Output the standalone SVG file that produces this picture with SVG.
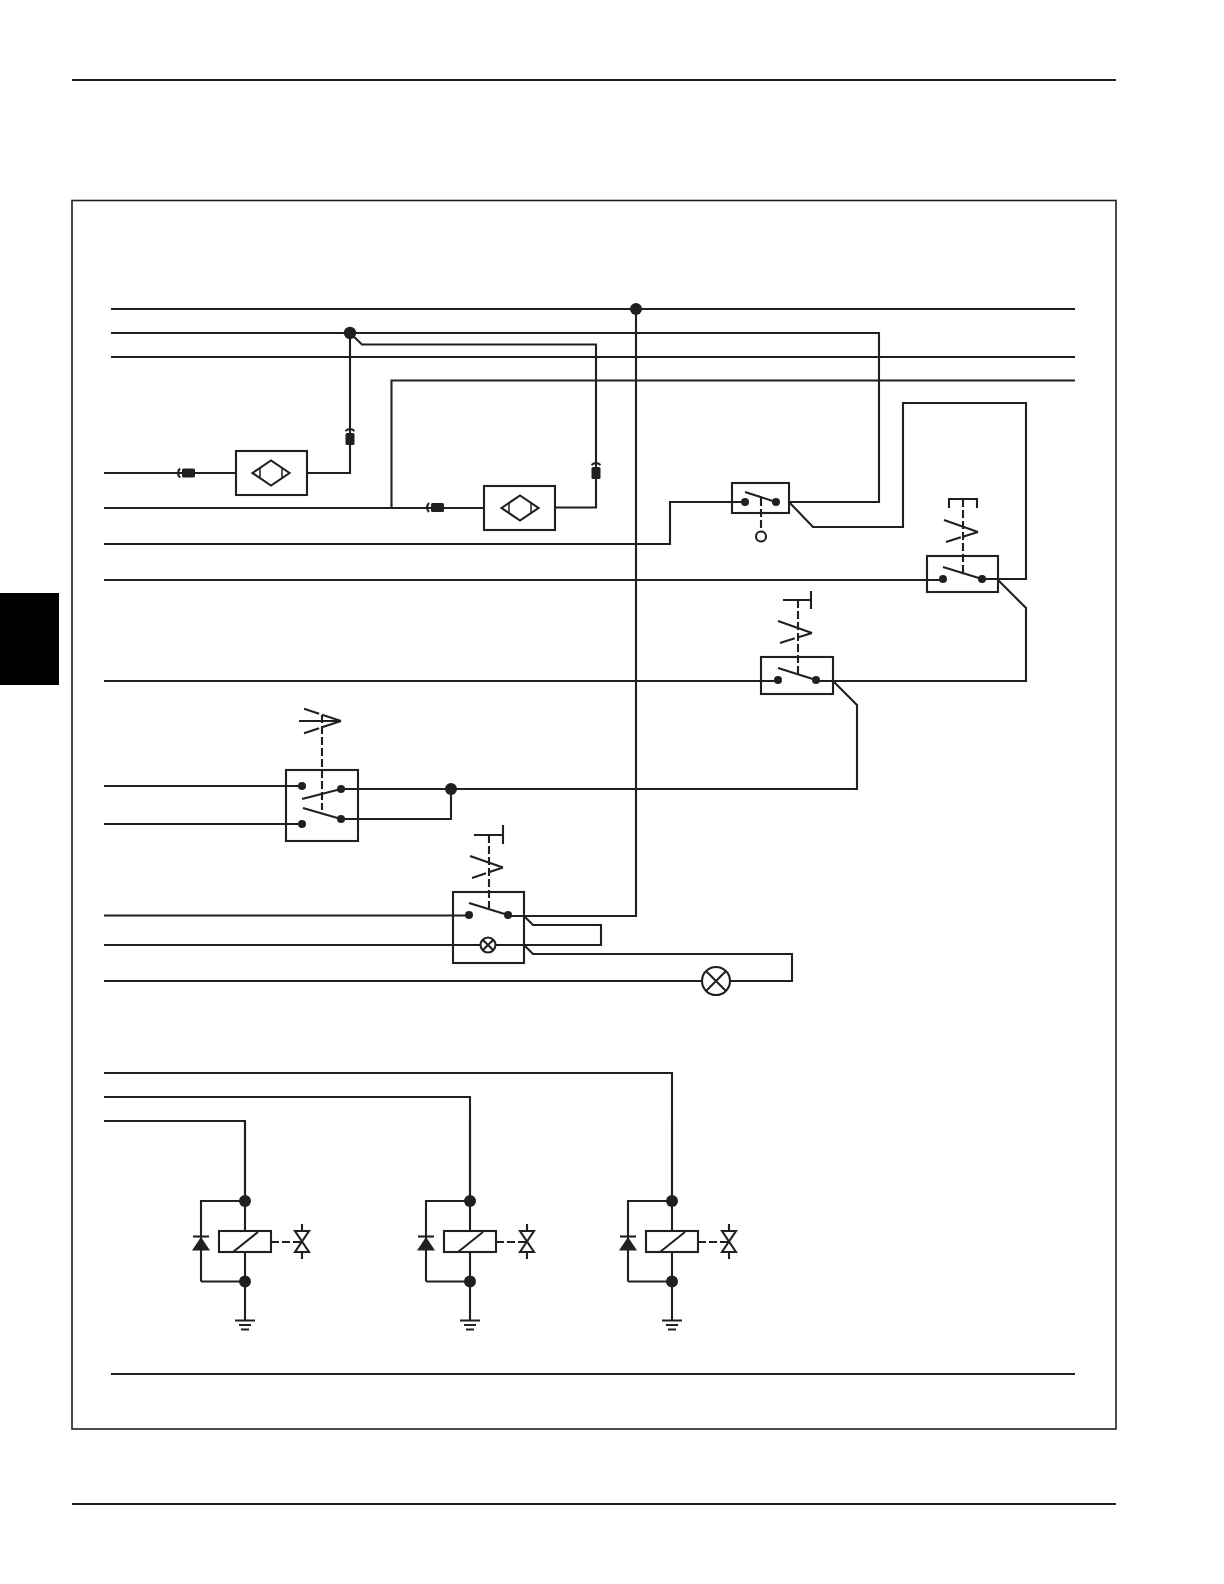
<svg xmlns="http://www.w3.org/2000/svg" xmlns:xlink="http://www.w3.org/1999/xlink" width="1224" height="1584" viewBox="0 0 1224 1584">
<style>
.w{fill:none;stroke:#231f20;stroke-width:2.100;stroke-linejoin:miter}
.b{fill:#fff;stroke:#231f20;stroke-width:2.100}
.o{fill:none;stroke:#231f20;stroke-width:2.100}
.d{fill:none;stroke:#231f20;stroke-width:2.100;stroke-dasharray:8 3}
.s{stroke-dasharray:15 3 16}
.k{fill:#231f20;stroke:none}
</style>
<defs>
<g id="sensor">
<path class="o" d="M-18.500 0L0-12.500L18.500 0L0 12.500Z"/>
<path class="o" d="M-11 -5V5M11 -5V5" style="stroke-width:1.500"/>
</g>
<g id="connH">
<rect class="k" x="5" y="-4.500" width="13" height="9" rx="1.500"/>
<path class="o" d="M3-4.500Q-1 0 3 4.500"/>
</g>
<g id="connV">
<rect class="k" x="-4.500" y="0" width="9" height="12" rx="1.500"/>
<path class="o" d="M-4.500-2Q0-6 4.500-2"/>
</g>
<g id="relay">
<path class="w" d="M0 1121V1320M-44 1281.500H0M0 1201H-44V1281.500"/>
<rect class="b" x="-26" y="1231" width="52" height="21"/>
<path class="o" d="M-12 1252L13 1232"/>
<path class="d" d="M26 1242H57"/>
<path class="k" d="M-44 1237L-53 1250.500H-35Z"/>
<path class="o" d="M-52 1236.500H-36"/>
<path class="o" d="M50 1231H64L50 1252H64ZM57 1224V1231M57 1252V1259"/>
<circle class="k" cx="0" cy="1201" r="6"/>
<circle class="k" cx="0" cy="1281.500" r="6"/>
<path class="o" d="M-10 1320.500H10M-6 1325H6M-4 1329.500H4"/>
</g>
</defs>
<rect width="1224" height="1584" fill="#fff"/>
<g id="page">
<path class="w" d="M72 80H1116M72 1504H1116"/>
<rect x="0" y="593" width="59" height="92" fill="#000"/>
<rect x="72" y="200.500" width="1044" height="1228.500" fill="none" stroke="#231f20" stroke-width="1.600"/>
</g>
<g id="connectors">
<path class="w" d="M111 309H1075M111 333H879V502H789M111 357H1075M1075 380.500H391.500V508M111 1374H1075"/>
<path class="w" d="M636 309V916H508"/>
<path class="w" d="M350 333V473H307M236 473H104"/>
<path class="w" d="M350 333L362 344.500H596V507.500H555M484 508H104"/>
<path class="w" d="M104 544H670V502H745"/>
<path class="w" d="M789 502L813 527H903V403H1026V579H982M943 580H104"/>
<path class="w" d="M998 580L1026 608V681H816M778 681H104"/>
<path class="w" d="M833 681L857 705V789H341M451 789V819H341"/>
<path class="w" d="M104 786H302M104 824H302"/>
<path class="w" d="M104 915.500H469"/>
<path class="w" d="M524 916L533 925H601V945H104"/>
<path class="w" d="M524 945L533 954H792V981H104"/>
<path class="w" d="M104 1073H672V1201M104 1097H470V1201M104 1121H245V1201"/>
</g>
<g id="dots">
<circle class="k" cx="636" cy="309" r="6"/>
<circle class="k" cx="350" cy="333" r="6.200"/>
<circle class="k" cx="451" cy="789" r="6"/>
</g>
<g id="sensor1">
<rect class="b" x="236" y="451" width="71" height="44"/>
<use href="#sensor" x="271" y="473"/>
<use href="#connH" x="177" y="473"/>
<use href="#connV" x="350" y="433"/>
</g>
<g id="sensor2">
<rect class="b" x="484" y="486" width="71" height="44"/>
<use href="#sensor" x="520" y="508"/>
<use href="#connH" x="426" y="507.500"/>
<use href="#connV" x="596" y="467"/>
</g>
<g id="switch1">
<rect class="o" x="732" y="483" width="57" height="30"/>
<circle class="k" cx="745" cy="502" r="4"/>
<circle class="k" cx="776" cy="502" r="4"/>
<path class="o" d="M745 492L776 502"/>
<path class="d" d="M761 498V531"/>
<circle class="o" cx="761" cy="536.500" r="5"/>
</g>
<g id="switch2">
<rect class="o" x="927" y="556" width="71" height="36"/>
<circle class="k" cx="943" cy="579" r="4"/>
<circle class="k" cx="982" cy="579" r="4"/>
<path class="o" d="M943 567L982 579"/>
<path class="d" d="M963 499V573"/>
<path class="o" d="M949 508V499H977V508M944 520L978 532"/>
<path class="d s" d="M978 532L946 542"/>
</g>
<g id="switch3">
<rect class="o" x="761" y="657" width="72" height="37"/>
<circle class="k" cx="778" cy="680" r="4"/>
<circle class="k" cx="816" cy="680" r="4"/>
<path class="o" d="M778 668L816 680"/>
<path class="d" d="M798 600V674"/>
<path class="o" d="M783 600H811M811 591V609M778 621L812 633"/>
<path class="d s" d="M812 633L780 643"/>
</g>
<g id="switch4">
<rect class="o" x="286" y="770" width="72" height="71"/>
<circle class="k" cx="302" cy="786" r="4"/>
<circle class="k" cx="302" cy="824" r="4"/>
<circle class="k" cx="341" cy="789" r="4"/>
<circle class="k" cx="341" cy="819" r="4"/>
<path class="o" d="M302 799L341 789M303 808L341 819"/>
<path class="d" d="M322 715V810"/>
<path class="o" d="M299 721H341"/>
<path class="d" d="M341 721L299 707M341 721L299 735" style="stroke-dasharray:20 3 16"/>
</g>
<g id="switch5">
<rect class="o" x="453" y="892" width="71" height="71"/>
<circle class="k" cx="469" cy="915" r="4"/>
<circle class="k" cx="508" cy="915" r="4"/>
<path class="o" d="M469 903L508 915"/>
<path class="d" d="M489 835V908"/>
<path class="o" d="M474 835H502M503 825V844M470 856L503 867.500"/>
<path class="d s" d="M503 867.500L472 878"/>
<circle class="b" cx="488" cy="945" r="7.500"/>
<path class="o" d="M482.700 939.700L493.300 950.300M482.700 950.300L493.300 939.700"/>
</g>
<g id="lamp">
<circle class="b" cx="716" cy="981" r="14"/>
<path class="o" d="M706 971L726 991M706 991L726 971"/>
</g>
<g id="relay1"><use href="#relay" x="245"/></g>
<g id="relay2"><use href="#relay" x="470"/></g>
<g id="relay3"><use href="#relay" x="672"/></g>
</svg>
